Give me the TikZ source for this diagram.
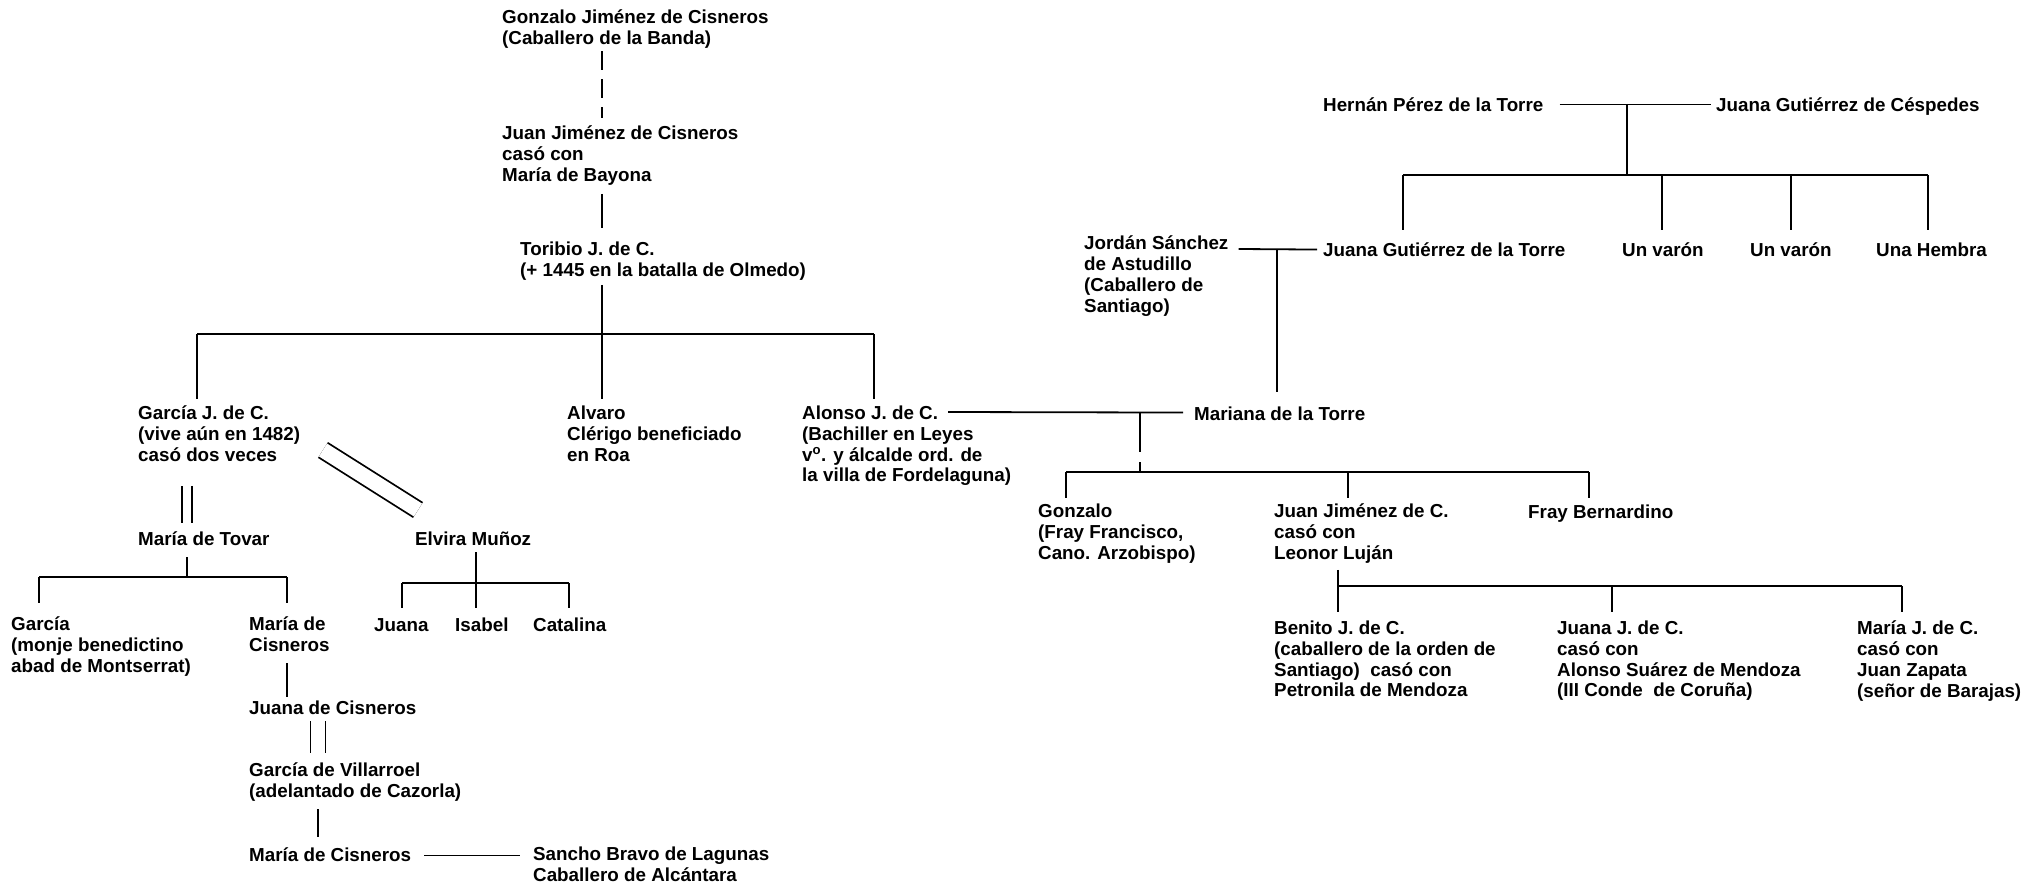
\documentclass[tikz,border=0pt]{standalone}
\usepackage{fontspec}
\setmainfont{Liberation Sans}

\tikzset{
  per/.style={anchor=north west,align=left,inner sep=0pt,yshift=8pt,
    font=\fontsize{18.8}{20.7}\selectfont\bfseries,execute at begin node=\strut},
  rama/.style={line width=1.8pt},
  doble/.style={rama,double,double distance=8.2pt},
}

\begin{document}
\begin{tikzpicture}[x=1pt,y=-1pt]
   \useasboundingbox (0,0) rectangle (2042,885);

   % Cisneros
   \node[per] (gonz) at (502,18) {Gonzalo Jiménez de Cisneros\\(Caballero de la Banda)};
   \node[per] (juanjc) at (502,134) {Juan Jiménez de Cisneros\\casó con\\María de Bayona};
   \node[per] (tori) at (520,250) {Toribio J. de C.\\(+ 1445 en la batalla de Olmedo)};
   \node[per] (garcia) at (138,414) {García J. de C.\\(vive aún en 1482)\\casó dos veces};
   \node[per] (alvaro) at (567,414) {Alvaro\\Clérigo beneficiado\\en Roa};
   \node[per] (alonso) at (802,414) {Alonso J. de C.\\(Bachiller en Leyes\\v\textsuperscript{o}. y álcalde ord. de\\la villa de Fordelaguna)};
   \node[per] (tovar) at (138,539) {María de Tovar};
   \node[per] (elvira) at (415,539) {Elvira Muñoz};
   \node[per] (garciab) at (11,625) {García\\(monje benedictino\\abad de Montserrat)};
   \node[per] (mariacis) at (249,625) {María de\\Cisneros};
   \node[per] (juana) at (374,625) {Juana};
   \node[per] (isabel) at (455,625) {Isabel};
   \node[per] (catalina) at (533,625) {Catalina};
   \node[per] (juanacis) at (249,708) {Juana de Cisneros};
   \node[per] (villa) at (249,771) {García de Villarroel\\(adelantado de Cazorla)};
   \node[per] (mariacisb) at (249,855) {María de Cisneros};
   \node[per] (sancho) at (533,855) {Sancho Bravo de Lagunas\\Caballero de Alcántara};

   % de la Torre
   \node[per] (hernan) at (1323,105) {Hernán Pérez de la Torre};
   \node[per] (cesp) at (1716,105) {Juana Gutiérrez de Céspedes};
   \node[per] (jordan) at (1084,244) {Jordán Sánchez\\de Astudillo\\(Caballero de\\Santiago)};
   \node[per] (juanat) at (1323,250) {Juana Gutiérrez de la Torre};
   \node[per] (varona) at (1622,250) {Un varón};
   \node[per] (varonb) at (1750,250) {Un varón};
   \node[per] (hembra) at (1876,250) {Una Hembra};
   \node[per] (mariana) at (1194,414) {Mariana de la Torre};
   \node[per] (gonzr) at (1038,512) {Gonzalo\\(Fray Francisco,\\Cano. Arzobispo)};
   \node[per] (juanjcb) at (1274,512) {Juan Jiménez de C.\\casó con\\Leonor Luján};
   \node[per] (fray) at (1528,512) {Fray Bernardino};
   \node[per] (benito) at (1274,629) {Benito J. de C.\\(caballero de la orden de\\Santiago)\ \ casó con\\Petronila de Mendoza};
   \node[per] (juanajc) at (1557,629) {Juana J. de C.\\casó con\\Alonso Suárez de Mendoza\\(III Conde\ \ de Coruña)};
   \node[per] (mariajc) at (1857,629) {María J. de C.\\casó con\\Juan Zapata\\(señor de Barajas)};

   \coordinate (t0) at (602,334);
   \coordinate (t1) at (197,334);
   \coordinate (t3) at (874,334);
   \coordinate (d1) at (323,450);
   \coordinate (d2) at (418,510);
   \coordinate (tb) at (187,577);
   \coordinate (tl) at (39,577);
   \coordinate (tr) at (287,577);
   \coordinate (eb) at (476,583);
   \coordinate (el) at (402,583);
   \coordinate (er) at (569,583);
   \coordinate (jv) at (318,790);

   \draw[rama,dash pattern=on 19pt off 9pt,shorten >=8pt] (gonz.south -| t0) -- (juanjc.north -| t0);
   \draw[rama,shorten <=6pt,shorten >=14pt] (juanjc.south -| t0) -- (tori.north -| t0);
   \draw[rama,shorten <=2pt] (tori.south -| t0) -- (t0);
   \draw[rama] (t1) -- (t3);
   \foreach \h/\n in {t1/garcia,t0/alvaro,t3/alonso}
      \draw[rama,shorten >=7pt] (\h) -- (\h |- \n.north);

   \draw[doble,double distance=15.2pt] (d1) -- (d2);
   \draw[doble,shorten <=18pt,shorten >=8pt] (garcia.south -| tb) -- (tovar.north -| tb);
   \draw[rama,shorten <=5pt] (tovar.south -| tb) -- (tb);
   \draw[rama] (tl) -- (tr);
   \foreach \h/\n in {tl/garciab,tr/mariacis}
      \draw[rama,shorten >=14pt] (\h) -- (\h |- \n.north);

   \draw[rama] (elvira.south -| eb) -- (eb);
   \draw[rama] (el) -- (er);
   \foreach \h/\n in {el/juana,eb/isabel,er/catalina}
      \draw[rama,shorten >=9pt] (\h) -- (\h |- \n.north);

   \draw[rama,shorten <=5pt,shorten >=3pt] (mariacis.south -| tr) -- (juanacis.north -| tr);
   \draw[doble,double distance=13.2pt,shorten >=10pt] (juanacis.south -| jv) -- (villa.north -| jv);
   \draw[rama,shorten <=5pt,shorten >=10pt] (villa.south -| jv) -- (mariacisb.north -| jv);
   \draw[rama] ([xshift=13pt,yshift=2pt]mariacisb.east) -- ([xshift=-13pt,yshift=2pt]mariacisb.east -| sancho.west);

   \coordinate (hp) at (1627,104);
   \coordinate (hb) at (1627,175);
   \coordinate (hl) at (1403,175);
   \coordinate (h2) at (1662,175);
   \coordinate (h3) at (1791,175);
   \coordinate (hr) at (1928,175);
   \coordinate (jm) at (1277,249);
   \coordinate (am) at (1140,412);
   \coordinate (amb) at (1140,472);
   \coordinate (ml) at (1066,472);
   \coordinate (m2) at (1348,472);
   \coordinate (mr) at (1589,472);
   \coordinate (lb) at (1338,586);
   \coordinate (l2) at (1612,586);
   \coordinate (lr) at (1902,586);

   \draw[rama] ([xshift=16pt,yshift=3pt]hernan.east) -- ([xshift=-5pt,yshift=3pt]cesp.west);
   \draw[rama] (hp) -- (hb);
   \draw[rama] (hl) -- (hr);
   \foreach \h/\n in {hl/juanat,h2/varona,h3/varonb,hr/hembra}
      \draw[rama,shorten >=12pt] (\h) -- (\h |- \n.north);

   \draw[rama] ([xshift=10pt,yshift=-13pt]jordan.north east) -- ([xshift=-6pt,yshift=3pt]juanat.west);
   \draw[rama,shorten >=14pt] (jm) -- (jm |- mariana.north);

   \draw[rama] ([xshift=146pt,yshift=-6pt]alonso.north west) -- ([xshift=-11pt,yshift=4pt]mariana.west);
   \draw[rama,dash pattern=on 40pt off 10pt] (am) -- (amb);
   \draw[rama] (ml) -- (mr);
   \foreach \h/\n in {ml/gonzr,m2/juanjcb,mr/fray}
      \draw[rama,shorten >=6pt] (\h) -- (\h |- \n.north);

   \draw[rama,shorten <=4pt] (juanjcb.south -| lb) -- (lb);
   \draw[rama] (lb) -- (lr);
   \foreach \h/\n in {lb/benito,l2/juanajc,lr/mariajc}
      \draw[rama,shorten >=9pt] (\h) -- (\h |- \n.north);
\end{tikzpicture}
\end{document}
